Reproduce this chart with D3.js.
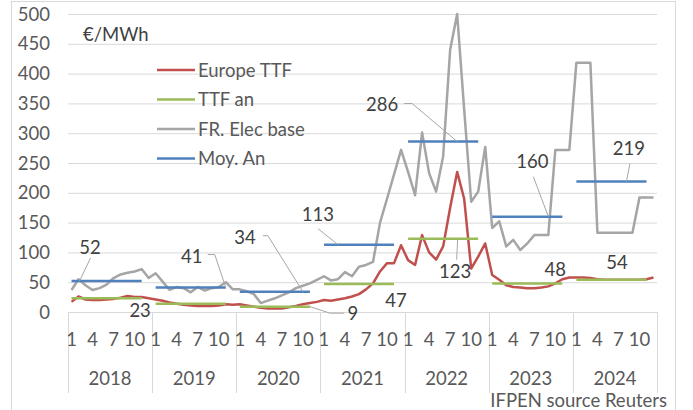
<!DOCTYPE html>
<html><head><meta charset="utf-8">
<script src="https://cdn.jsdelivr.net/npm/d3@7"></script>
<style>body{margin:0;background:#fff}svg{display:block}text{font-family:Lato,"Open Sans",sans-serif}</style>
</head><body><svg id="c" width="693" height="410"></svg>
<script>
const years = ["2018","2019","2020","2021","2022","2023","2024"];
const monthTicks = [1, 4, 7, 10];
const yTicks = [0, 50, 100, 150, 200, 250, 300, 350, 400, 450, 500];
const europeTTF = [
  17, 26, 21, 20, 20, 21, 22, 24, 27, 25, 25, 23,
  21, 19, 16, 14, 12, 11, 10, 10, 10, 11, 13, 12,
  13, 11, 9, 7, 6, 6, 6, 8, 10, 13, 15, 17,
  20, 19, 21, 23, 26, 30, 38, 48, 68, 82, 82, 112,
  87, 79, 129, 100, 88, 110, 175, 235, 190, 73, 93, 115,
  62, 54, 45, 42, 41, 40, 40, 41, 43, 48, 55, 58,
  58, 58, 57, 55, 54, 54, 54, 54, 54, 54, 55, 58
];
const frElecBase = [
  37, 55, 45, 37, 40, 46, 57, 63, 66, 68, 72, 57,
  65, 51, 37, 42, 40, 33, 42, 36, 40, 42, 50, 38,
  38, 35, 30, 15, 19, 23, 28, 33, 40, 44, 48, 54,
  60, 53, 55, 67, 60, 76, 79, 84, 150, 190, 231, 272,
  235, 196, 301, 233, 202, 261, 440, 500, 340, 185, 202, 277,
  141, 152, 110, 121, 104, 115, 129, 129, 129, 272, 272, 272,
  418, 418, 418, 133, 133, 133, 133, 133, 133, 192, 192, 192
];
const ttfAn = [23, 14, 9, 47, 123, 48, 54];
const moyAn = [52, 41, 34, 113, 286, 160, 219];
const seriesNames = ["Europe TTF", "TTF an", "FR. Elec base", "Moy. An"];
const unitLabel = "€/MWh";
const sourceText = "IFPEN source Reuters";

// ---- layout / style ----
const FS = 18.5;
const colors = ["#c0504d", "#9bbb59", "#a5a5a5", "#4f81bd"];
const svg = d3.select("#c");
const L = 68, R = 657, T = 14, B = 312;
const months = d3.range(84);
const x = d3.scaleBand().domain(months).range([L, R]).paddingInner(0).paddingOuter(0);
const xm = (yi, m) => x(yi * 12 + m - 1) + x.bandwidth() / 2;
const xYear = d3.scaleBand().domain(years).range([L, R]);
const y = d3.scaleLinear().domain([0, 500]).range([B, T]);

// border
svg.append("rect").attr("x", 11.5).attr("y", 1.5).attr("width", 664).attr("height", 430)
  .attr("fill", "#fff").attr("stroke", "#d9d9d9");

// gridlines
svg.append("g").selectAll("line").data(yTicks.filter(v => v > 0)).join("line")
  .attr("x1", L).attr("x2", R).attr("y1", d => y(d) + 0.5).attr("y2", d => y(d) + 0.5)
  .attr("stroke", "#d9d9d9").attr("stroke-width", 1);

// y tick labels
svg.append("g").selectAll("text").data(yTicks).join("text")
  .attr("x", 50).attr("y", d => y(d)).attr("dy", "0.36em").attr("text-anchor", "end")
  .attr("font-size", FS).attr("fill", "#595959").text(d => d);

// x axis line + year separators
svg.append("line").attr("x1", L).attr("x2", R).attr("y1", B + 0.5).attr("y2", B + 0.5)
  .attr("stroke", "#d9d9d9");
svg.append("g").selectAll("line").data(years.concat(["end"])).join("line")
  .attr("x1", (d, i) => Math.round(i < years.length ? xYear(d) : R) + 0.5)
  .attr("x2", (d, i) => Math.round(i < years.length ? xYear(d) : R) + 0.5)
  .attr("y1", B).attr("y2", 393).attr("stroke", "#d9d9d9");

// month tick labels
const mt = [];
years.forEach((yr, yi) => monthTicks.forEach(m => mt.push({yi, m})));
svg.append("g").selectAll("text").data(mt).join("text")
  .attr("x", d => xm(d.yi, d.m)).attr("y", 339).attr("dy", "0.36em").attr("text-anchor", "middle")
  .attr("font-size", FS).attr("fill", "#595959").text(d => d.m);
svg.append("g").selectAll("text").data(years).join("text")
  .attr("x", d => xYear(d) + xYear.bandwidth() / 2).attr("y", 378).attr("dy", "0.36em")
  .attr("text-anchor", "middle").attr("font-size", FS).attr("fill", "#595959").text(d => d);

// unit
svg.append("text").attr("x", 83).attr("y", 34).attr("dy", "0.36em").attr("font-size", FS)
  .attr("fill", "#404040").text(unitLabel);
// source
svg.append("text").attr("x", 667).attr("y", 400).attr("dy", "0.36em").attr("text-anchor", "end")
  .attr("font-size", FS).attr("fill", "#595959").text(sourceText);

// lines
const line = d3.line().x((d, i) => x(i) + x.bandwidth() / 2).y(d => y(d));
const annualSeg = (vals) => vals.map((v, yi) => [[xm(yi, 1), y(v)], [xm(yi, 11), y(v)]]);

svg.append("path").datum(europeTTF).attr("d", line).attr("fill", "none")
  .attr("stroke", colors[0]).attr("stroke-width", 2.5).attr("stroke-linejoin", "round");
svg.append("g").selectAll("path").data(annualSeg(ttfAn)).join("path")
  .attr("d", d => d3.line()(d)).attr("stroke", colors[1]).attr("stroke-width", 2.5);
svg.append("path").datum(frElecBase).attr("d", line).attr("fill", "none")
  .attr("stroke", colors[2]).attr("stroke-width", 2.5).attr("stroke-linejoin", "round");
svg.append("g").selectAll("path").data(annualSeg(moyAn)).join("path")
  .attr("d", d => d3.line()(d)).attr("stroke", colors[3]).attr("stroke-width", 2.5);

// data labels: anchor at (year, month) on annual series, text offset and leader offsets
const labelLayout = [
  {s: "moy", yi: 0, m: 2, t: [11.5, -34], leader: [[12, -23], [1, 0]]},
  {s: "moy", yi: 1, m: 11, t: [-34, -31], leader: [[-18, -33], [-11, -33], [0, 0]]},
  {s: "moy", yi: 2, m: 10, t: [-58, -54], leader: [[-40, -56], [-35, -56], [0, 0]]},
  {s: "moy", yi: 3, m: 3, t: [-20, -30], leader: [[-20, -16], [0, 0]]},
  {s: "moy", yi: 4, m: 8, t: [-75, -37], leader: [[-53, -38], [-45, -38], [0, 0]]},
  {s: "moy", yi: 5, m: 9, t: [-16, -55], leader: [[-15, -40], [0, 0]]},
  {s: "moy", yi: 6, m: 8, t: [3.5, -33.5], leader: [[4.5, -18], [1, 0]]},
  {s: "ttf", yi: 0, m: 11, t: [-1.5, 12], leader: null},
  {s: "ttf", yi: 2, m: 11, t: [43, 6.5], leader: [[34, 6.5], [20, 6.5], [0, 0]]},
  {s: "ttf", yi: 3, m: 11, t: [2, 16], leader: null},
  {s: "ttf", yi: 4, m: 8, t: [-2, 33], leader: [[-0.5, 21], [0.5, 0]]},
  {s: "ttf", yi: 5, m: 11, t: [-7, -14.5], leader: null},
  {s: "ttf", yi: 6, m: 8, t: [-8.5, -17], leader: null}
];
const lg = svg.append("g");
labelLayout.forEach(l => {
  const v = (l.s === "moy" ? moyAn : ttfAn)[l.yi];
  const ax = xm(l.yi, l.m), ay = y(v);
  if (l.leader) {
    lg.append("path").attr("d", d3.line()(l.leader.map(p => [ax + p[0], ay + p[1]])))
      .attr("fill", "none").attr("stroke", "#a6a6a6").attr("stroke-width", 1);
  }
  lg.append("text").attr("x", ax + l.t[0]).attr("y", ay + l.t[1]).attr("dy", "0.36em")
    .attr("text-anchor", "middle").attr("font-size", FS).attr("fill", "#404040").text(v);
});

// legend
const leg = svg.append("g");
seriesNames.forEach((n, i) => {
  const ly = 70 + i * 29.5;
  leg.append("line").attr("x1", 157).attr("x2", 195).attr("y1", ly).attr("y2", ly)
    .attr("stroke", colors[i]).attr("stroke-width", 2.5);
  leg.append("text").attr("x", 198).attr("y", ly).attr("dy", "0.36em").attr("font-size", FS)
    .attr("fill", "#595959").text(n);
});
</script></body></html>
